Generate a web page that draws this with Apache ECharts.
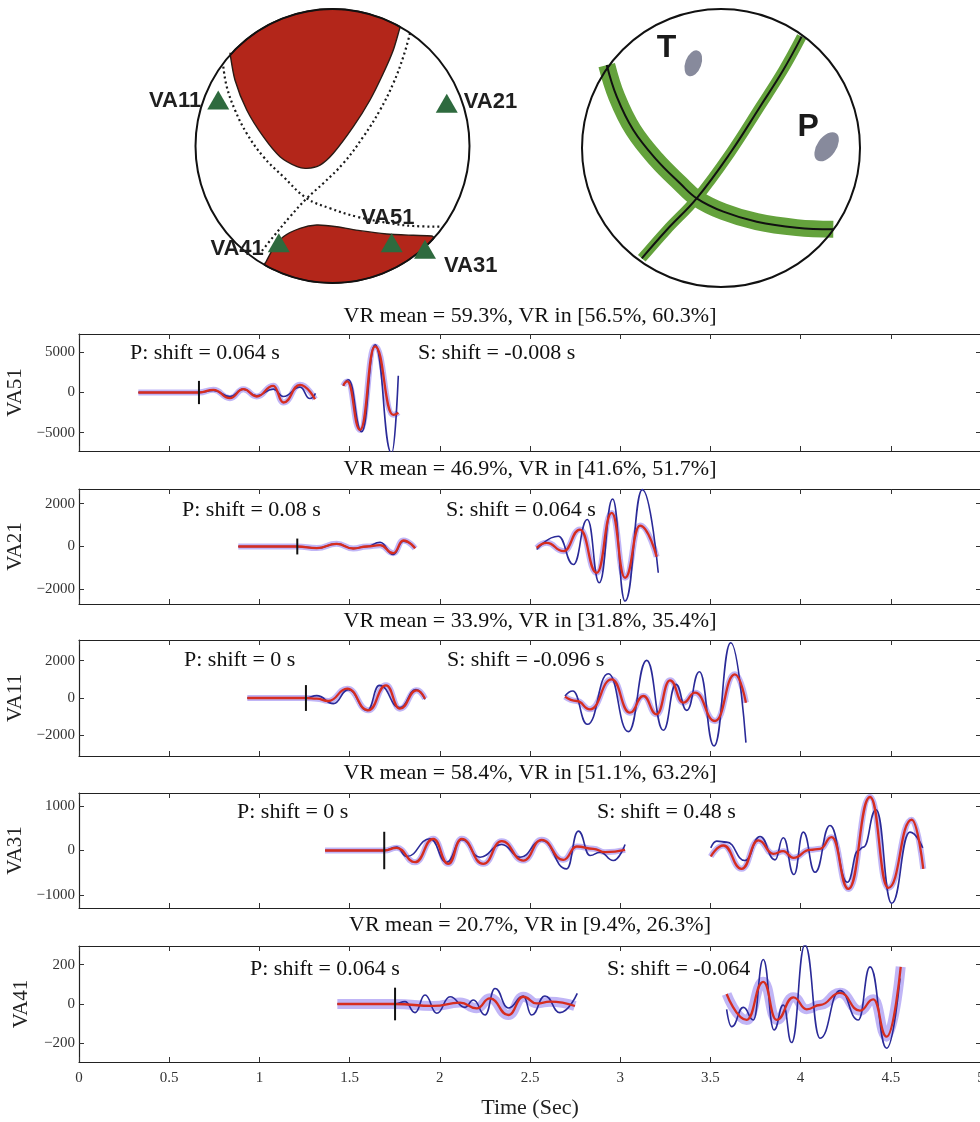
<!DOCTYPE html>
<html>
<head>
<meta charset="utf-8">
<script src="https://cdn.jsdelivr.net/npm/echarts@6/dist/echarts.min.js"></script>
<style>html,body{margin:0;padding:0;background:#fff}#chart{width:980px;height:1122px}</style>
</head>
<body>
<div id="chart"></div>
<script>
// ---------- station summary (panels top to bottom) ----------
const stations = ['VA51', 'VA21', 'VA11', 'VA31', 'VA41'];
const vrMean = [59.3, 46.9, 33.9, 58.4, 20.7];
const vrLow = [56.5, 41.6, 31.8, 51.1, 9.4];
const vrHigh = [60.3, 51.7, 35.4, 63.2, 26.3];
const pShiftText = ['0.064 s', '0.08 s', '0 s', '0 s', '0.064 s'];
const sShiftText = ['-0.008 s', '0.064 s', '-0.096 s', '0.48 s', '-0.064'];
const pArrival = [0.665, 1.210, 1.258, 1.692, 1.752];
const pickHalfHeight = [1450, 370, 690, 420, 83];
const yLimit = [7300, 2680, 3100, 1290, 295];
const yTicks = [[-5000, 0, 5000], [-2000, 0, 2000], [-2000, 0, 2000], [-1000, 0, 1000], [-200, 0, 200]];
const xTicks = [0, 0.5, 1, 1.5, 2, 2.5, 3, 3.5, 4, 4.5, 5];

// ---------- waveforms [time (s), amplitude] : observed (Obs) and synthetic (Syn) ----------
const va51PObs = [[0.329,0],[0.665,0],[0.745,250],[0.837,-500],[0.911,417],[0.985,-420],[1.077,420],[1.133,-500],[1.225,670],[1.280,-750],[1.311,-100]];
const va51PSyn = [[0.329,0],[0.665,0],[0.745,333],[0.837,-709],[0.911,417],[0.985,-500],[1.077,834],[1.133,-1250],[1.225,959],[1.308,-834]];
const va51SObs = [[1.465,834],[1.493,1585],[1.567,-4880],[1.641,5960],[1.733,-7600],[1.770,2085]];
const va51SSyn = [[1.465,834],[1.487,1376],[1.558,-4670],[1.641,5750],[1.742,-2790],[1.770,-2500]];

const va21PObs = [[0.883,0],[1.210,0],[1.318,-75],[1.428,124],[1.520,-93],[1.595,0],[1.669,200],[1.742,-370],[1.798,250],[1.863,-60]];
const va21PSyn = [[0.883,0],[1.210,0],[1.318,-75],[1.428,124],[1.520,-93],[1.595,0],[1.669,62],[1.742,-310],[1.798,280],[1.863,-90]];
const va21SObs = [[2.537,-140],[2.657,480],[2.740,-837],[2.818,1255],[2.884,-1690],[2.958,2217],[3.027,-2542],[3.123,2650],[3.211,-1225]];
const va21SSyn = [[2.537,-62],[2.593,170],[2.685,-217],[2.777,790],[2.870,-1225],[2.953,1565],[3.027,-1457],[3.110,977],[3.202,-480]];

const va11PObs = [[0.933,0],[1.258,0],[1.318,125],[1.410,-302],[1.493,445],[1.598,-659],[1.665,676],[1.779,-516],[1.868,445],[1.918,-71]];
const va11PSyn = [[0.933,0],[1.258,0],[1.318,-36],[1.382,-160],[1.487,498],[1.604,-659],[1.702,676],[1.779,-570],[1.872,409],[1.918,-36]];
const va11SObs = [[2.694,107],[2.737,374],[2.818,-1406],[2.934,1300],[3.045,-1798],[3.147,2011],[3.239,-1727],[3.309,730],[3.369,-659],[3.439,1406],[3.520,-2563],[3.613,2955],[3.697,-2385]];
const va11SSyn = [[2.694,71],[2.759,-160],[2.833,-605],[2.953,997],[3.054,-783],[3.128,107],[3.202,-872],[3.276,943],[3.350,-249],[3.415,285],[3.526,-1228],[3.636,1264],[3.697,-249]];

const va31PObs = [[1.364,0],[1.692,0],[1.761,75],[1.816,-135],[1.946,262],[2.038,-262],[2.121,240],[2.223,-150],[2.343,135],[2.445,-150],[2.565,225],[2.703,-412],[2.768,435],[2.833,-112],[2.888,-38],[2.962,-225],[3.027,135]];
const va31PSyn = [[1.364,0],[1.692,0],[1.761,60],[1.863,-262],[1.964,262],[2.047,-300],[2.121,262],[2.241,-300],[2.343,210],[2.463,-225],[2.565,240],[2.685,-210],[2.759,90],[2.851,38],[2.916,-38],[3.027,15]];
const va31SObs = [[3.502,60],[3.535,210],[3.590,188],[3.692,-225],[3.775,315],[3.858,-210],[3.904,285],[3.963,-540],[4.015,412],[4.080,-488],[4.163,562],[4.259,-712],[4.320,0],[4.348,75],[4.418,915],[4.505,-1185],[4.606,412],[4.677,60]];
const va31SSyn = [[3.502,-135],[3.572,112],[3.673,-412],[3.766,225],[3.849,-75],[3.904,-15],[3.960,-165],[4.052,15],[4.108,38],[4.172,300],[4.265,-862],[4.385,1200],[4.486,-840],[4.616,690],[4.680,-412]];

const va41PObs = [[1.432,0],[1.752,0],[1.807,12],[1.863,-44],[1.918,46],[1.983,-47],[2.057,37],[2.140,-17],[2.186,20],[2.251,-56],[2.306,79],[2.380,-20],[2.463,40],[2.509,-56],[2.583,41],[2.666,-44],[2.762,54]];
const va41PSyn = [[1.432,0],[1.752,0],[1.964,-10],[2.112,7],[2.205,-22],[2.278,29],[2.380,-56],[2.463,37],[2.537,3],[2.611,12],[2.749,-10]];
const va41SObs = [[3.590,-27],[3.618,-115],[3.683,-17],[3.738,-81],[3.793,226],[3.853,-132],[3.904,-5],[3.950,-196],[4.024,300],[4.108,-174],[4.218,68],[4.320,-81],[4.385,189],[4.477,-225],[4.551,130]];
const va41SSyn = [[3.590,51],[3.701,-81],[3.793,113],[3.867,-81],[3.960,34],[4.034,-27],[4.108,-5],[4.218,57],[4.329,-34],[4.403,24],[4.477,-166],[4.555,189]];

// ---------- focal mechanism (lower-hemisphere projection, unit circle) ----------
const compTopBoundary = [[0.493,0.866],[0.444,0.701],[0.371,0.531],[0.274,0.336],[0.152,0.141],[0.006,-0.053],[-0.091,-0.139],[-0.188,-0.163],[-0.258,-0.151],[-0.383,-0.078],[-0.505,0.068],[-0.626,0.263],[-0.712,0.482],[-0.748,0.677]];
const compBottomBoundary = [[-0.485,-0.845],[-0.432,-0.747],[-0.359,-0.662],[-0.237,-0.601],[-0.115,-0.577],[0.031,-0.589],[0.201,-0.618],[0.396,-0.642],[0.590,-0.652],[0.724,-0.657]];
const nodalPlaneA = [[0.566,0.823],[0.517,0.652],[0.444,0.458],[0.347,0.263],[0.225,0.068],[0.079,-0.126],[-0.067,-0.272],[-0.188,-0.382],[-0.310,-0.516],[-0.432,-0.662],[-0.529,-0.783]];
const nodalPlaneB = [[-0.797,0.579],[-0.772,0.433],[-0.712,0.263],[-0.626,0.092],[-0.505,-0.078],[-0.359,-0.224],[-0.188,-0.382],[-0.018,-0.455],[0.177,-0.516],[0.396,-0.560],[0.590,-0.584],[0.785,-0.589]];
const stationPos = [[-0.834,0.336],[0.834,0.312],[-0.392,-0.706],[0.432,-0.706],[0.675,-0.754]];
const stationNames = ['VA11', 'VA21', 'VA41', 'VA51', 'VA31'];

const planeBand1 = [[-0.822,0.597],[-0.750,0.369],[-0.631,0.129],[-0.463,-0.086],[-0.295,-0.254],[-0.175,-0.362],[0.017,-0.458],[0.257,-0.530],[0.545,-0.573],[0.808,-0.585]];
const planeBand2 = [[0.580,0.801],[0.448,0.561],[0.281,0.297],[0.065,-0.038],[-0.175,-0.362],[-0.391,-0.590],[-0.570,-0.794]];
const axisNames = ['T', 'P'];
const axisLabelPos = [[-0.392,0.717],[0.628,0.153]];
const axisCloudPos = [[-0.199,0.609],[0.760,0.009]];

// ---------- layout ----------
const PLOT_LEFT = 79, PLOT_WIDTH = 902;
const panelTop = [334, 489, 640, 793, 946];
const panelHeight = [117, 115, 116, 115, 116];
const titleY = [316, 469, 621, 773, 925];
const pTextPos = [[130,353],[182,510],[184,660],[237,812],[250,969]];
const sTextPos = [[418,353],[446,510],[447,660],[597,812],[607,969]];

const OBS_COLOR = '#2a2a98';
const SYN_COLOR = '#d62d1f';
const BAND_COLOR = 'rgba(140,120,238,0.55)';
const SERIF = '"Liberation Serif", "DejaVu Serif", serif';
const SANS = '"Liberation Sans", Arial, sans-serif';

const windows = [
  [[va51PObs, va51PSyn], [va51SObs, va51SSyn]],
  [[va21PObs, va21PSyn], [va21SObs, va21SSyn]],
  [[va11PObs, va11PSyn], [va11SObs, va11SSyn]],
  [[va31PObs, va31PSyn], [va31SObs, va31SSyn]],
  [[va41PObs, va41PSyn], [va41SObs, va41SSyn]]
];

const grid = [], xAxis = [], yAxis = [], series = [], graphic = [];
const minus = v => String(v).replace('-', '\u2212');
const wave = { type: 'line', smooth: 0.5, smoothMonotone: 'x', showSymbol: false, silent: true };

stations.forEach((name, i) => {
  grid.push({ left: PLOT_LEFT, top: panelTop[i], width: PLOT_WIDTH, height: panelHeight[i], outerBoundsMode: 'none', containLabel: false });
  const isLast = i === stations.length - 1;
  const lineCol = { color: '#222', width: 1.2 };
  const tick = { inside: true, length: 5, customValues: xTicks, lineStyle: { color: '#333' } };
  xAxis.push({
    gridIndex: i, type: 'value', min: 0, max: 5, position: 'bottom',
    axisLine: { show: true, onZero: false, lineStyle: lineCol }, axisTick: tick,
    axisLabel: { show: isLast, customValues: xTicks, margin: 9, fontFamily: SERIF, fontSize: 15, color: '#333', hideOverlap: false },
    splitLine: { show: false },
    name: isLast ? 'Time (Sec)' : '', nameLocation: 'middle', nameGap: 35,
    nameTextStyle: { fontFamily: SERIF, fontSize: 22, color: '#222' }
  });
  xAxis.push({
    gridIndex: i, type: 'value', min: 0, max: 5, position: 'top',
    axisLine: { show: true, onZero: false, lineStyle: lineCol }, axisTick: tick,
    axisLabel: { show: false }, splitLine: { show: false }
  });
  const ytick = { inside: true, length: 5, customValues: yTicks[i], lineStyle: { color: '#333' } };
  yAxis.push({
    gridIndex: i, type: 'value', min: -yLimit[i], max: yLimit[i], position: 'left',
    axisLine: { show: true, onZero: false, lineStyle: lineCol }, axisTick: ytick,
    axisLabel: { customValues: yTicks[i], formatter: minus, margin: 4, fontFamily: SERIF, fontSize: 15, color: '#333' },
    splitLine: { show: false },
    name: name, nameLocation: 'middle', nameGap: 47,
    nameTextStyle: { fontFamily: SERIF, fontSize: 21, color: '#222' }
  });
  yAxis.push({
    gridIndex: i, type: 'value', min: -yLimit[i], max: yLimit[i], position: 'right',
    axisLine: { show: true, onZero: false, lineStyle: lineCol }, axisTick: ytick,
    axisLabel: { show: false }, splitLine: { show: false }
  });

  const ax = { xAxisIndex: 2 * i, yAxisIndex: 2 * i };
  windows[i].forEach(([obs, syn]) => {
    series.push(Object.assign({}, wave, ax, { data: syn, z: 2, lineStyle: { color: BAND_COLOR, width: isLast ? 10 : 6 } }));
    series.push(Object.assign({}, wave, ax, { data: obs, z: 3, lineStyle: { color: OBS_COLOR, width: 1.6 } }));
    series.push(Object.assign({}, wave, ax, { data: syn, z: 4, lineStyle: { color: SYN_COLOR, width: 2.3 } }));
  });
  // P-wave pick
  series.push(Object.assign({ type: 'line', data: [[pArrival[i], -pickHalfHeight[i]], [pArrival[i], pickHalfHeight[i]]],
    showSymbol: false, silent: true, z: 5, lineStyle: { color: '#111', width: 2 } }, ax));

  const txt = (text, x, y, align) => ({
    type: 'text', x: x, y: y, z: 10, silent: true,
    style: { text: text, fill: '#111', fontSize: 22, fontFamily: SERIF,
      align: align, textAlign: align, verticalAlign: 'middle', textVerticalAlign: 'middle' }
  });
  graphic.push(txt('VR mean = ' + vrMean[i] + '%, VR in [' + vrLow[i] + '%, ' + vrHigh[i] + '%]', PLOT_LEFT + PLOT_WIDTH / 2, titleY[i], 'center'));
  graphic.push(txt('P: shift = ' + pShiftText[i], pTextPos[i][0], pTextPos[i][1], 'left'));
  graphic.push(txt('S: shift = ' + sShiftText[i], sTextPos[i][0], sTextPos[i][1], 'left'));
});

// ---------- focal sphere grids ----------
const ballGrid = [
  { left: 195.5, top: 9, width: 274, height: 274, outerBoundsMode: 'none' },
  { left: 582, top: 9, width: 278, height: 278, outerBoundsMode: 'none' }
];
ballGrid.forEach((g, k) => {
  grid.push(g);
  xAxis.push({ gridIndex: 5 + k, type: 'value', min: -1, max: 1, show: false });
  yAxis.push({ gridIndex: 5 + k, type: 'value', min: -1, max: 1, show: false });
});
const L = { xAxisIndex: 10, yAxisIndex: 10 };
const R = { xAxisIndex: 11, yAxisIndex: 11 };

// filled compressional quadrant: boundary curve closed along the rim of the sphere
function quadrantRender(boundary) {
  return function (params, api) {
    const c = api.coord([0, 0]);
    const r = api.coord([1, 0])[0] - c[0];
    const pts = boundary.map(p => api.coord(p));
    const ang = p => Math.atan2(c[1] - p[1], p[0] - c[0]);
    const a1 = ang(pts[pts.length - 1]);
    const a0 = ang(pts[0]);
    let d = a0 - a1;
    while (d > Math.PI) d -= 2 * Math.PI;
    while (d < -Math.PI) d += 2 * Math.PI;
    const steps = 30;
    for (let s = 0; s <= steps; s++) {
      const a = a1 + d * s / steps;
      pts.push([c[0] + r * Math.cos(a), c[1] - r * Math.sin(a)]);
    }
    return {
      type: 'polygon', shape: { points: pts, smooth: 0.25 },
      style: { fill: '#b3261a', stroke: '#2a1a14', lineWidth: 1.4 }
    };
  };
}
function rimRender(params, api) {
  const c = api.coord([0, 0]);
  const r = api.coord([1, 0])[0] - c[0];
  return { type: 'circle', shape: { cx: c[0], cy: c[1], r: r }, style: { fill: 'none', stroke: '#111', lineWidth: 2 } };
}

series.push(Object.assign({ type: 'custom', coordinateSystem: 'cartesian2d', data: [[0, 0]], clip: false, silent: true, z: 1,
  renderItem: quadrantRender(compTopBoundary) }, L));
series.push(Object.assign({ type: 'custom', coordinateSystem: 'cartesian2d', data: [[0, 0]], clip: false, silent: true, z: 1,
  renderItem: quadrantRender(compBottomBoundary) }, L));
[nodalPlaneA, nodalPlaneB].forEach(pl => {
  series.push(Object.assign({ type: 'line', data: pl, smooth: 0.4, showSymbol: false, silent: true, z: 2,
    lineStyle: { color: '#1a1a1a', width: 2.2, type: [2, 3] } }, L));
});
series.push(Object.assign({ type: 'custom', coordinateSystem: 'cartesian2d', data: [[0, 0]], clip: false, silent: true, z: 3,
  renderItem: rimRender }, L));

const stationLabel = [
  { position: 'left', distance: 6, offset: [0, 1] },
  { position: 'right', distance: 6, offset: [0, -1] },
  { position: 'left', distance: 4, offset: [0, 6] },
  { position: 'top', distance: 4, offset: [-4, 0] },
  { position: 'right', distance: 8, offset: [0, 17] }
];
series.push(Object.assign({
  type: 'scatter', silent: true, z: 4, symbol: 'triangle', symbolSize: [22, 19],
  itemStyle: { color: '#2e6a3e', opacity: 1 },
  data: stationPos.map((p, j) => ({
    value: p,
    label: Object.assign({ show: true, formatter: stationNames[j], fontFamily: SANS, fontWeight: 'bold', fontSize: 22, color: '#1f1f1f' }, stationLabel[j])
  }))
}, L));

// right sphere: nodal planes with uncertainty bands, P and T axes
[planeBand1, planeBand2].forEach((pl, j) => {
  series.push(Object.assign({ type: 'line', data: pl, smooth: 0.4, showSymbol: false, silent: true, z: 1,
    lineStyle: { color: '#64a23c', width: j === 0 ? 17 : 10, cap: 'butt' } }, R));
});
[planeBand1, planeBand2].forEach(pl => {
  series.push(Object.assign({ type: 'line', data: pl, smooth: 0.4, showSymbol: false, silent: true, z: 2,
    lineStyle: { color: '#111', width: 2 } }, R));
});
series.push(Object.assign({ type: 'custom', coordinateSystem: 'cartesian2d', data: [[0, 0]], clip: false, silent: true, z: 3,
  renderItem: rimRender }, R));
series.push(Object.assign({
  type: 'scatter', silent: true, z: 4, symbol: 'circle',
  itemStyle: { color: '#878a9c', opacity: 1 },
  data: [
    { value: axisCloudPos[0], symbolSize: [16, 27], symbolRotate: -20 },
    { value: axisCloudPos[1], symbolSize: [19, 33], symbolRotate: -35 }
  ]
}, R));
series.push(Object.assign({
  type: 'scatter', silent: true, z: 4, symbolSize: 0,
  itemStyle: { opacity: 1 },
  data: axisLabelPos.map((p, j) => ({
    value: p,
    label: { show: true, position: 'inside', formatter: axisNames[j], fontFamily: SANS, fontWeight: 'bold', fontSize: 32, color: '#1a1a1a' }
  }))
}, R));

const chart = echarts.init(document.getElementById('chart'), null, { renderer: 'canvas' });
chart.setOption({
  animation: false,
  backgroundColor: '#ffffff',
  grid: grid,
  xAxis: xAxis,
  yAxis: yAxis,
  series: series,
  graphic: graphic
});
</script>
</body>
</html>
